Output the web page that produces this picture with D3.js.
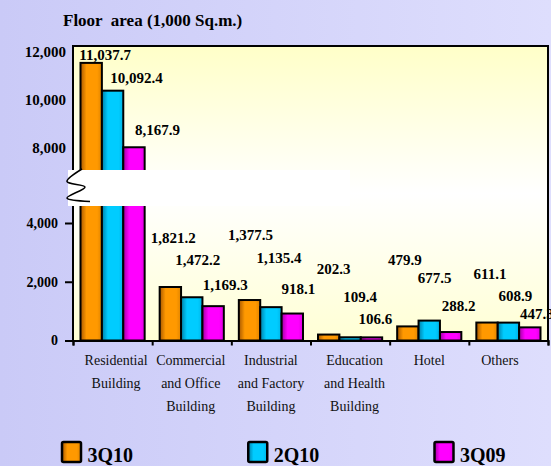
<!DOCTYPE html>
<html>
<head>
<meta charset="utf-8">
<script src="https://cdn.jsdelivr.net/npm/d3@7"></script>
<style>
  html, body { margin: 0; padding: 0; }
  svg { display: block; font-family: "Liberation Serif", "Times New Roman", serif; }
</style>
</head>
<body>
<div id="chart"></div>
<script>
// Datos del grafico
var categories = ["Residential", "Commercial", "Industrial", "Education", "Hotel", "Others"];
var catLines = [
	["Residential", "Building"],
	["Commercial", "and Office", "Building"],
	["Industrial", "and Factory", "Building"],
	["Education", "and Health", "Building"],
	["Hotel"],
	["Others"]
];
var seriesNames = ["3Q10", "2Q10", "3Q09"];
var v3Q10 = [11037.7, 1821.2, 1377.5, 202.3, 479.9, 611.1];
var v2Q10 = [10092.4, 1472.2, 1135.4, 109.4, 677.5, 608.9];
var v3Q09 = [8167.9, 1169.3, 918.1, 106.6, 288.2, 447.3];
var lowTicks = [0, 2000, 4000];
var highTicks = [8000, 10000, 12000];
var titleText = "Floor  area (1,000 Sq.m.)";

// Estilo y disposicion
var width = 551, height = 466,
	plotL = 73, plotR = 548, plotT = 46, plotB = 340.5,
	breakAt = 4000,
	colors = [
		{ base: "#ff9900", dark: "#a85800", mid: "#e08400" },
		{ base: "#00ccff", dark: "#007fa8", mid: "#00b4e6" },
		{ base: "#ff00ff", dark: "#a000a0", mid: "#e000e0" }
	],
	// desplazamiento manual de las etiquetas de valor [dx, dy] respecto a la cima de la barra
	labelNudge = [
		[[14, -8], [24, -13], [23.5, -17]],
		[[3, -49], [6, -37], [12, -21]],
		[[1, -65], [8, -49], [6, -24.5]],
		[[5, -65.5], [10, -40], [4, -18.5]],
		[[-3, -66], [5.5, -42.5], [8, -26]],
		[[3, -48.5], [7, -26.5], [7, -13.5]]
	],
	catNudge = [3.5, -1, 0, 4.5, 0, -8.5];

var rows = categories.map(function (c, i) {
	return { cat: c, lines: catLines[i], vals: [v3Q10[i], v2Q10[i], v3Q09[i]], i: i };
});

var svg = d3.select("#chart").append("svg")
	.attr("width", width)
	.attr("height", height);

var defs = svg.append("defs");

var bg = defs.append("linearGradient").attr("id", "bg")
	.attr("x1", 0).attr("x2", 1).attr("y1", 0).attr("y2", 0);
bg.append("stop").attr("offset", "0%").attr("stop-color", "#cacaf7");
bg.append("stop").attr("offset", "100%").attr("stop-color", "#dedefd");

var pg = defs.append("linearGradient").attr("id", "plotbg")
	.attr("x1", 0).attr("x2", 0).attr("y1", 0).attr("y2", 1);
pg.append("stop").attr("offset", "0%").attr("stop-color", "#ffffc8");
pg.append("stop").attr("offset", "50%").attr("stop-color", "#ffffff");
pg.append("stop").attr("offset", "100%").attr("stop-color", "#ffffd4");

colors.forEach(function (c, k) {
	var g = defs.append("linearGradient").attr("id", "bar" + k)
		.attr("x1", 0).attr("x2", 1).attr("y1", 0).attr("y2", 0);
	g.append("stop").attr("offset", "0%").attr("stop-color", c.dark);
	g.append("stop").attr("offset", "28%").attr("stop-color", c.base);
	g.append("stop").attr("offset", "78%").attr("stop-color", c.base);
	g.append("stop").attr("offset", "100%").attr("stop-color", c.mid);
});

svg.append("rect").attr("width", width).attr("height", height).attr("fill", "url(#bg)");

// escalas
var x0 = d3.scaleBand().domain(categories).range([plotL, plotR]).padding(0);
var x1 = d3.scaleBand().domain(seriesNames).range([7.5, x0.bandwidth() - 7.5]).padding(0);

// eje partido: tramo bajo y tramo alto de las barras
var yLow = d3.scaleLinear().domain([0, 4000]).range([plotB, 223]);
var yHigh = d3.scaleLinear().domain([8000, 12000]).range([152.2, 34.6]);
// las etiquetas del tramo alto del original no siguen la escala de las barras
var yHighTicks = d3.scaleLinear().domain([8000, 12000]).range([148, 51.7]);

function yBar(v) { return v > breakAt ? yHigh(v) : yLow(v); }

svg.append("rect")
	.attr("x", plotL).attr("y", plotT)
	.attr("width", plotR - plotL).attr("height", plotB - plotT)
	.attr("fill", "url(#plotbg)");

// barras
var groups = svg.selectAll(".grp")
	.data(rows)
	.enter().append("g")
	.attr("class", "grp")
	.attr("transform", function (d) { return "translate(" + x0(d.cat) + ",0)"; });

groups.selectAll("rect")
	.data(function (d) { return d.vals.map(function (v, k) { return { v: v, k: k }; }); })
	.enter().append("rect")
	.attr("x", function (d) { return x1(seriesNames[d.k]); })
	.attr("y", function (d) { return yBar(d.v); })
	.attr("width", x1.bandwidth())
	.attr("height", function (d) { return plotB - yBar(d.v); })
	.attr("fill", function (d) { return "url(#bar" + d.k + ")"; })
	.attr("stroke", "#000")
	.attr("stroke-width", 2);

// marco superior y derecho
svg.append("path")
	.attr("d", "M" + plotL + "," + plotT + "H" + plotR + "V" + plotB)
	.attr("fill", "none").attr("stroke", "#000").attr("stroke-width", 2);

// eje Y
svg.append("line")
	.attr("x1", plotL).attr("x2", plotL).attr("y1", plotT - 1).attr("y2", plotB)
	.attr("stroke", "#000").attr("stroke-width", 2);

var axLow = svg.append("g")
	.attr("transform", "translate(" + plotL + ",0)")
	.call(d3.axisLeft(yLow).tickValues(lowTicks).tickSize(8).tickPadding(7).tickFormat(d3.format(",")));
axLow.select(".domain").remove();
axLow.selectAll("line").attr("stroke-width", 2);
axLow.selectAll("text").attr("font-size", 14).attr("font-weight", "bold")
	.attr("font-family", "Liberation Serif, serif").attr("fill", "#000");

var axHigh = svg.append("g")
	.attr("transform", "translate(" + plotL + ",0)")
	.call(d3.axisLeft(yHighTicks).tickValues(highTicks).tickSize(0).tickPadding(7).tickFormat(d3.format(",")));
axHigh.select(".domain").remove();
axHigh.selectAll("text").attr("font-size", 15).attr("font-weight", "bold")
	.attr("font-family", "Liberation Serif, serif").attr("fill", "#000");

// eje X con marcas en los limites de cada grupo
var xEdges = d3.scaleLinear().domain([0, categories.length]).range([plotL, plotR]);
var axX = svg.append("g")
	.attr("transform", "translate(0," + plotB + ")")
	.call(d3.axisBottom(xEdges).ticks(categories.length).tickSize(5).tickFormat(""));
axX.select(".domain").attr("stroke-width", 2);
axX.selectAll("line").attr("stroke-width", 2);

// corte del eje
var brk = { x: 68, y: 170, w: 282, h: 36 };
svg.append("rect")
	.attr("x", brk.x).attr("y", brk.y).attr("width", brk.w).attr("height", brk.h)
	.attr("fill", "#fff");
var zig = [[9, -1], [-6, 11.5], [12, 17], [-6, 28], [17, 31.5]];
svg.append("path")
	.attr("d", d3.line().curve(d3.curveCatmullRom)(zig.map(function (p) { return [plotL + p[0], brk.y + p[1]]; })))
	.attr("fill", "none").attr("stroke", "#000").attr("stroke-width", 1.5);

// etiquetas de valor
groups.selectAll("text.val")
	.data(function (d) { return d.vals.map(function (v, k) { return { v: v, k: k, g: d.i }; }); })
	.enter().append("text")
	.attr("class", "val")
	.attr("x", function (d) { return x1(seriesNames[d.k]) + x1.bandwidth() / 2 + labelNudge[d.g][d.k][0]; })
	.attr("y", function (d) { return yBar(d.v) + labelNudge[d.g][d.k][1] + 5; })
	.attr("text-anchor", "middle")
	.attr("font-size", 15)
	.attr("font-weight", "bold")
	.text(function (d) { return d3.format(",.1f")(d.v); });

// etiquetas de categoria
var catText = svg.selectAll(".cat")
	.data(rows)
	.enter().append("text")
	.attr("class", "cat")
	.attr("text-anchor", "middle")
	.attr("font-size", 14)
	.attr("fill", "#111");
catText.selectAll("tspan")
	.data(function (d) { return d.lines.map(function (l) { return { l: l, d: d }; }); })
	.enter().append("tspan")
	.attr("x", function (t) { return x0(t.d.cat) + x0.bandwidth() / 2 + catNudge[t.d.i]; })
	.attr("y", function (t, j) { return 365 + j * 23; })
	.text(function (t) { return t.l; });

// titulo
svg.append("text")
	.attr("x", 63).attr("y", 26)
	.attr("font-size", 17).attr("font-weight", "bold")
	.style("white-space", "pre")
	.text(titleText);

// leyenda
var legX = d3.scaleLinear().domain([0, seriesNames.length - 1]).range([62, 434.5]);
var leg = svg.selectAll(".leg")
	.data(seriesNames)
	.enter().append("g")
	.attr("class", "leg")
	.attr("transform", function (d, k) { return "translate(" + legX(k) + ",442)"; });
leg.append("rect")
	.attr("width", 19).attr("height", 20).attr("rx", 1.5)
	.attr("fill", function (d, k) { return "url(#bar" + k + ")"; })
	.attr("stroke", "#000").attr("stroke-width", 2.5);
leg.append("text")
	.attr("x", 25.5).attr("y", 20)
	.attr("font-size", 20).attr("font-weight", "bold")
	.text(function (d) { return d; });
</script>
</body>
</html>
